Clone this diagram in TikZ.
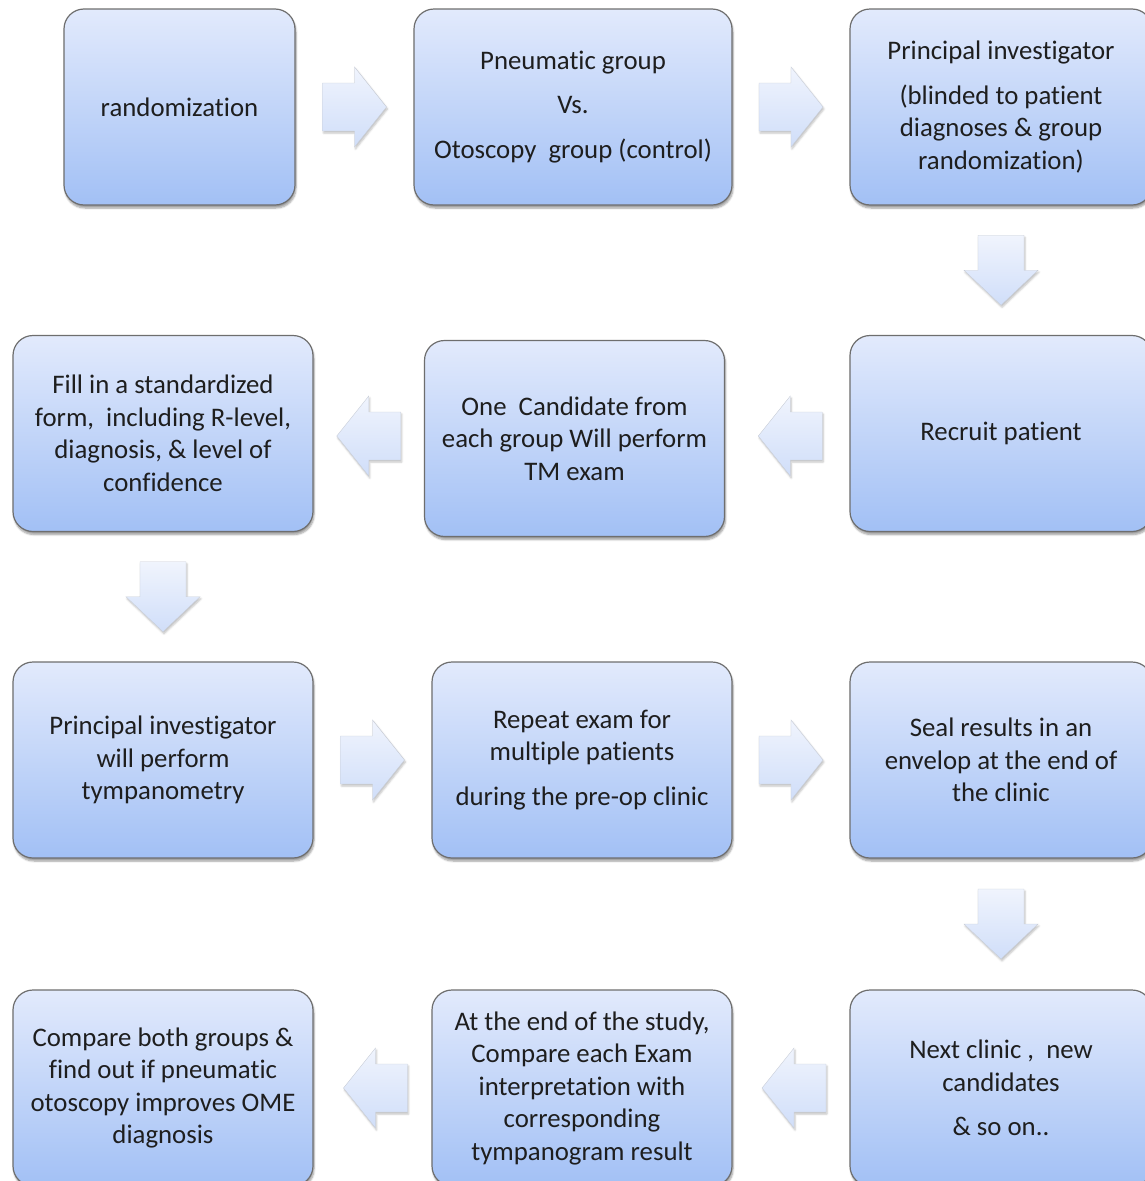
\documentclass[tikz,border=0pt]{standalone}
\usepackage{fontspec}
\setmainfont[Ligatures=NoCommon]{Carlito}
\usetikzlibrary{calc,shadows.blur}
\definecolor{boxtop}{RGB}{226,234,252}
\definecolor{boxbot}{RGB}{162,192,245}
\definecolor{boxline}{RGB}{110,110,110}
\definecolor{arrtop}{RGB}{240,244,253}
\definecolor{arrbot}{RGB}{208,222,249}
\definecolor{arrline}{RGB}{200,205,215}
\definecolor{txt}{RGB}{30,30,30}
\begin{document}
\begin{tikzpicture}[x=1pt,y=-1pt,
  flowbox/.style={draw=boxline, line width=1.2pt, rounded corners=20pt,
    top color=boxtop, bottom color=boxbot, minimum width=300pt, minimum height=196pt,
    align=center, font=\fontsize{26.8}{32.5}\selectfont, text=txt, inner sep=0pt,
    blur shadow={shadow xshift=1pt, shadow yshift=-3pt, shadow blur steps=6, shadow opacity=40}},
  arrowfill/.style={draw=arrline, line width=0.4pt, top color=arrtop, bottom color=arrbot,
    blur shadow={shadow xshift=1pt, shadow yshift=-2pt, shadow opacity=25, shadow blur steps=4}},
  rarrow/.pic={\path[arrowfill] (-32,-24) -- (0,-24) -- (0,-40) -- (32,0) -- (0,40) -- (0,24) -- (-32,24) -- cycle;},
  larrow/.pic={\path[arrowfill] (32,-24) -- (0,-24) -- (0,-40) -- (-32,0) -- (0,40) -- (0,24) -- (32,24) -- cycle;},
  darrow/.pic={\path[arrowfill] (-23,-35) -- (23,-35) -- (23,0) -- (37,0) -- (0,35) -- (-37,0) -- (-23,0) -- cycle;}
]
\useasboundingbox (0,0) rectangle (1145,1181);
\clip (0,0) rectangle (1145,1181);
% row 1
\node[flowbox, minimum width=231pt] (nRand) at (179.5,107) {randomization};
\node[flowbox, minimum width=318pt] (nPneu) at (573,107) {Pneumatic group\\[12pt]Vs.\\[12pt]Otoscopy\ \ group (control)};
\node[flowbox, minimum width=302pt] (nPI) at (1001,107) {Principal investigator\\[12pt](blinded to patient\\diagnoses \& group\\randomization)};
% row 2
\node[flowbox] (nFill) at (163,433.5) {Fill in a standardized\\form,\ \ including R-level,\\diagnosis, \& level of\\confidence};
\node[flowbox] (nOne) at (574.5,438.5) {One\ \ Candidate from\\each group Will perform\\TM exam};
\node[flowbox, minimum width=302pt] (nRecruit) at (1001,433.5) {Recruit patient};
% row 3
\node[flowbox] (nPItwo) at (163,760) {Principal investigator\\will perform\\tympanometry};
\node[flowbox] (nRepeat) at (582,760) {Repeat exam for\\multiple patients\\[12pt]during the pre-op clinic};
\node[flowbox, minimum width=302pt] (nSeal) at (1001,760) {Seal results in an\\envelop at the end of\\the clinic};
% row 4
\node[flowbox] (nComp) at (163,1088) {Compare both groups \&\\find out if pneumatic\\otoscopy improves OME\\diagnosis};
\node[flowbox] (nEnd) at (582,1088) {At the end of the study,\\Compare each Exam\\interpretation with\\corresponding\\tympanogram result};
\node[flowbox, minimum width=302pt] (nNext) at (1001,1088) {Next clinic ,\ \ new\\candidates\\[12pt]\& so on..};
% arrows
\pic at ($(nRand.east)!0.5!(nPneu.west)$) {rarrow};
\pic at ($(nPneu.east)!0.5!(nPI.west)$) {rarrow};
\pic at ($(nPI.south)!0.5!(nRecruit.north)$) {darrow};
\pic at ($(nRecruit.west)!0.5!(nOne.east)+(3,0)$) {larrow};
\pic at ($(nOne.west)!0.5!(nFill.east)$) {larrow};
\pic at ($(nFill.south)!0.5!(nPItwo.north)$) {darrow};
\pic at ($(nPItwo.east)!0.5!(nRepeat.west)$) {rarrow};
\pic at ($(nRepeat.east)!0.5!(nSeal.west)$) {rarrow};
\pic at ($(nSeal.south)!0.5!(nNext.north)$) {darrow};
\pic at ($(nNext.west)!0.5!(nEnd.east)+(3,0)$) {larrow};
\pic at ($(nEnd.west)!0.5!(nComp.east)+(3,0)$) {larrow};
\end{tikzpicture}
\end{document}
